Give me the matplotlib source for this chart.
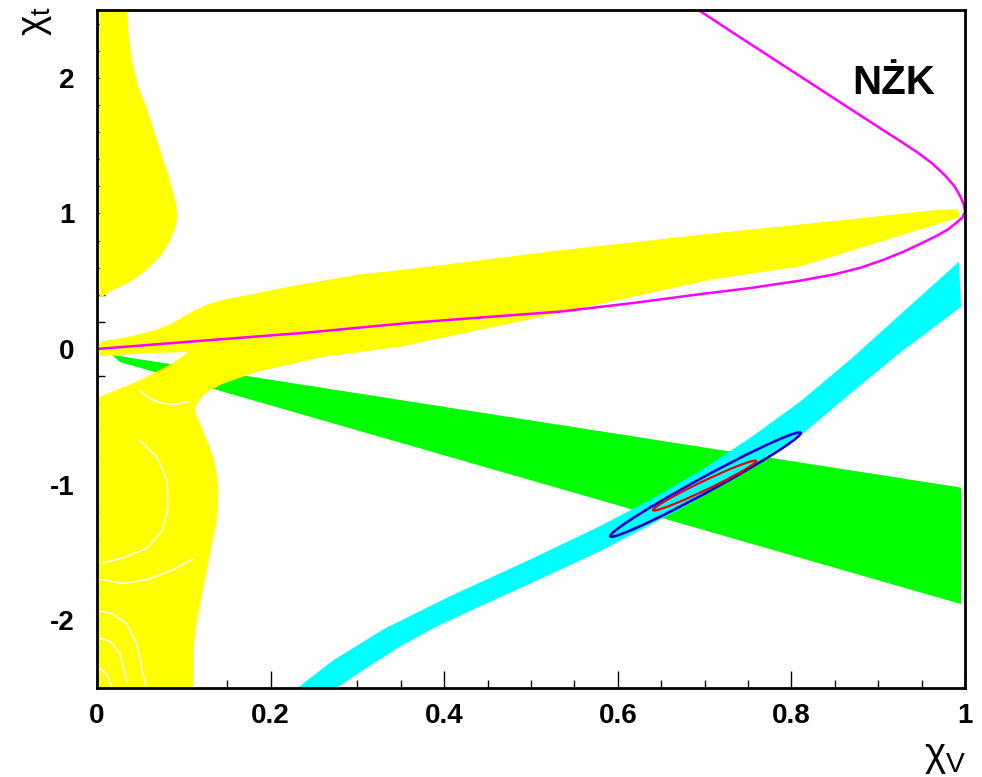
import numpy as np
import matplotlib
matplotlib.use("Agg")
import matplotlib.pyplot as plt
from matplotlib.patches import Polygon, Ellipse
from matplotlib.ticker import FixedLocator, FixedFormatter, MultipleLocator

plt.rcParams['font.family'] = ['Liberation Sans', 'DejaVu Sans']
plt.rcParams['mathtext.fontset'] = 'custom'
plt.rcParams['mathtext.rm'] = 'Liberation Sans'
plt.rcParams['mathtext.it'] = 'Liberation Sans'
plt.rcParams['mathtext.bf'] = 'Liberation Sans:bold'

# ---------------- data ----------------
# yellow allowed region, upper-left lobe (x, y)
yellow_a_x = [0.003, 0.0346, 0.0369, 0.0415, 0.0484, 0.0577, 0.0669, 0.0761, 0.0830, 0.0877, 0.0911,
              0.0923, 0.0911, 0.0877, 0.0830, 0.0761, 0.0657, 0.0531, 0.0404, 0.0265, 0.0150, 0.0058, 0.003]
yellow_a_y = [2.5, 2.5, 2.289, 2.089, 1.919, 1.770, 1.585, 1.400, 1.267, 1.156, 1.067,
              0.978, 0.911, 0.859, 0.785, 0.711, 0.637, 0.563, 0.504, 0.459, 0.422, 0.385, 0.39]

# yellow allowed region: wedge towards (1,1) joined with lower-left lobe
yellow_b_x = [0.0035, 0.030, 0.0689, 0.0877, 0.1073, 0.1265, 0.1453, 0.1649, 0.2226, 0.2995, 0.3610,
              0.5225, 0.7186, 0.8685, 0.9642, 0.9896, 0.9931, 0.9931, 0.8108, 0.707, 0.5225, 0.3495,
              0.261, 0.1842, 0.1457, 0.1303, 0.1188, 0.1130, 0.1142, 0.1188, 0.1265, 0.1341, 0.1381,
              0.1399, 0.1392, 0.1381, 0.1341, 0.1303, 0.1226, 0.1150, 0.1111, 0.1111,
              0.0023, 0.0023, 0.0496, 0.0877, 0.1050, 0.0611, 0.0023]
yellow_b_y = [0.054, 0.081, 0.141, 0.193, 0.267, 0.326, 0.363, 0.387, 0.461, 0.548, 0.590,
              0.719, 0.859, 0.956, 1.024, 1.030, 1.007, 0.970, 0.610, 0.511, 0.252, 0.017,
              -0.057, -0.168, -0.254, -0.304, -0.363, -0.430, -0.489, -0.548, -0.674, -0.798, -0.919,
              -1.044, -1.168, -1.267, -1.390, -1.511, -1.761, -2.007, -2.205, -2.5,
              -2.5, -0.356, -0.230, -0.104, -0.022, -0.030, -0.052]

# white gaps inside the lower-left yellow lobe
gap1_x = [0.0496, 0.0692, 0.0807, 0.0819, 0.075, 0.0577, 0.030, 0.0069]
gap1_y = [-0.674, -0.800, -0.970, -1.170, -1.341, -1.467, -1.541, -1.578]
gap2_x = [0.005, 0.030, 0.058, 0.087, 0.110]
gap2_y = [-1.70, -1.73, -1.70, -1.63, -1.55]
gap3_x = [0.050, 0.062, 0.075, 0.090, 0.105]
gap3_y = [-0.31, -0.37, -0.40, -0.41, -0.39]
gap4_x = [0.0035, 0.0185, 0.0346, 0.0461, 0.0531, 0.0577]
gap4_y = [-1.933, -1.956, -2.030, -2.178, -2.400, -2.504]
gap5_x = [0.0035, 0.015, 0.0265, 0.0346]
gap5_y = [-2.133, -2.156, -2.252, -2.452]
gap6_x = [0.0035, 0.0115, 0.0173]
gap6_y = [-2.356, -2.400, -2.500]

# green band
green_x = [0.0173, 0.9954, 0.9954, 0.0265]
green_y = [-0.044, -1.022, -1.881, -0.096]

# cyan band: upper edge then lower edge
cyan_up_x = [0.2307, 0.2722, 0.3299, 0.4071, 0.5029, 0.5802, 0.6378, 0.6955, 0.7532, 0.8108, 0.8685, 0.9262, 0.9931]
cyan_up_y = [-2.5, -2.296, -2.067, -1.822, -1.541, -1.304, -1.111, -0.896, -0.652, -0.385, -0.074, 0.259, 0.644]
cyan_lo_x = [0.9954, 0.9262, 0.8685, 0.8108, 0.7532, 0.6955, 0.6378, 0.5802, 0.5029, 0.4418, 0.3875, 0.3495, 0.3114, 0.276]
cyan_lo_y = [0.311, -0.022, -0.326, -0.637, -0.859, -1.096, -1.296, -1.489, -1.719, -1.896, -2.059, -2.193, -2.348, -2.5]

# magenta curve
mag_x = [0.0, 0.107, 0.240, 0.361, 0.450, 0.534, 0.6186, 0.6955, 0.753, 0.811, 0.849, 0.880, 0.907,
         0.930, 0.950, 0.966, 0.980, 0.990, 0.997, 1.0,
         0.999, 0.995, 0.988, 0.977, 0.962, 0.9454, 0.925, 0.9038, 0.8621, 0.8116, 0.7731, 0.7343, 0.6930]
mag_y = [0.0, 0.054, 0.120, 0.193, 0.236, 0.276, 0.340, 0.405, 0.450, 0.505, 0.550, 0.600, 0.660,
         0.720, 0.780, 0.830, 0.880, 0.930, 0.970, 1.010,
         1.060, 1.120, 1.200, 1.280, 1.370, 1.449, 1.535, 1.622, 1.795, 2.005, 2.165, 2.326, 2.500]

# fit contours: centre, sigma_x, sigma_y, correlation
blue_fit = (0.701, -1.000, 0.1097, 0.3846, 0.9863)
red_fit = (0.700, -1.007, 0.0594, 0.1840, 0.9797)

x_ticks = [0, 0.2, 0.4, 0.6, 0.8, 1.0]
x_labels = ['0', '0.2', '0.4', '0.6', '0.8', '1']
y_ticks = [-2, -1, 0, 1, 2]
y_labels = ['-2', '-1', '0', '1', '2']

# ---------------- figure ----------------
W, H = 982, 777
fig = plt.figure(figsize=(W / 100, H / 100), dpi=100)
ax = fig.add_axes([97 / W, 1 - 688 / H, (965 - 97) / W, (688 - 10) / H])
ax.set_xlim(0, 1)
ax.set_ylim(-2.5, 2.5)
ax.set_axisbelow(True)

ax.add_patch(Polygon(np.column_stack([green_x, green_y]), closed=True, fc='#00ff00', ec='none', zorder=1))
ax.add_patch(Polygon(np.column_stack([yellow_a_x, yellow_a_y]), closed=True, fc='#ffff00', ec='none', zorder=2))
ax.add_patch(Polygon(np.column_stack([yellow_b_x, yellow_b_y]), closed=True, fc='#ffff00', ec='none', zorder=2))
for gx, gy in [(gap1_x, gap1_y), (gap2_x, gap2_y), (gap3_x, gap3_y),
               (gap4_x, gap4_y), (gap5_x, gap5_y), (gap6_x, gap6_y)]:
    ax.plot(gx, gy, color='white', lw=1.1, zorder=2.1)
ax.add_patch(Polygon(np.column_stack([cyan_up_x + cyan_lo_x, cyan_up_y + cyan_lo_y]), closed=True,
                     fc='#00ffff', ec='none', zorder=3))
ax.plot(mag_x, mag_y, color='#ff00ff', lw=1.8, zorder=4, solid_joinstyle='round')


def fit_ellipse(fit, color, lw):
    cx, cy, sx, sy, rho = fit
    cov = np.array([[sx * sx, rho * sx * sy], [rho * sx * sy, sy * sy]])
    vals, vecs = np.linalg.eigh(cov)
    ang = np.degrees(np.arctan2(vecs[1, 1], vecs[0, 1]))
    e = Ellipse((cx, cy), 2 * np.sqrt(vals[1]), 2 * np.sqrt(vals[0]), angle=ang,
                fill=False, ec=color, lw=lw, zorder=5)
    ax.add_patch(e)


fit_ellipse(blue_fit, '#0000d0', 1.9)
fit_ellipse(red_fit, '#ee0000', 1.6)

ax.text(0.918, 1.96, 'NŻK', fontsize=29, fontweight='bold', ha='center', va='center', zorder=6)

ax.xaxis.set_major_locator(FixedLocator(x_ticks))
ax.xaxis.set_major_formatter(FixedFormatter(x_labels))
ax.xaxis.set_minor_locator(MultipleLocator(0.05))
ax.yaxis.set_major_locator(FixedLocator(y_ticks))
ax.yaxis.set_major_formatter(FixedFormatter(y_labels))
ax.yaxis.set_minor_locator(MultipleLocator(0.2))
ax.tick_params(which='both', direction='in', top=False, right=False, width=1.0, color='black')
ax.tick_params(which='major', length=12)
ax.tick_params(which='minor', length=6)
ax.tick_params(axis='x', which='major', pad=11)
ax.tick_params(axis='y', which='major', pad=16)
for lab in ax.get_xticklabels() + ax.get_yticklabels():
    lab.set_fontsize(20)
    lab.set_fontweight('bold')
for s in ax.spines.values():
    s.set_linewidth(2.0)
    s.set_zorder(7)

fig.text(966 / W, 1 / H, r'$\chi_{\mathrm{V}}$', fontsize=29, ha='right', va='bottom')
fig.text(36 / W, 1 - 6 / H, r'$\chi_{\mathrm{t}}$', fontsize=28, ha='center', va='top', rotation=90)

fig.savefig('out.png', dpi=100)
